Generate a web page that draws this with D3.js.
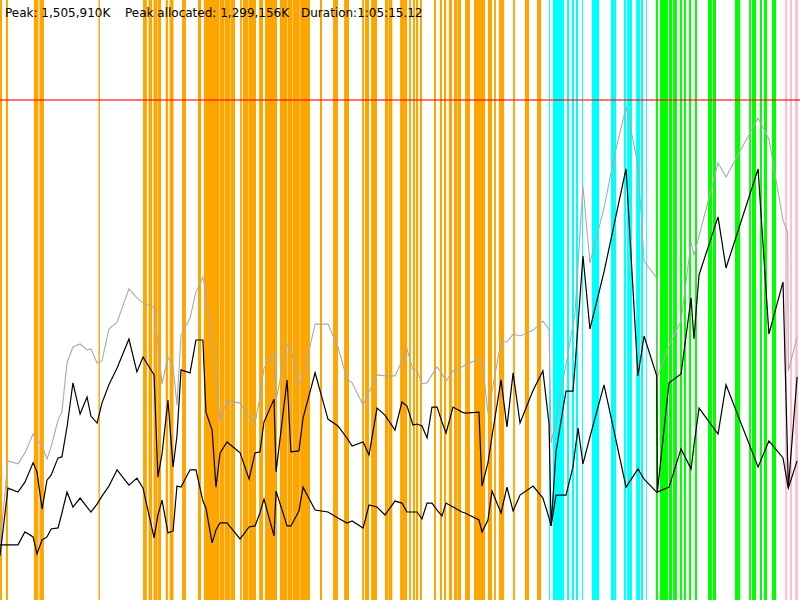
<!DOCTYPE html>
<html>
<head>
<meta charset="utf-8">
<script src="https://cdn.jsdelivr.net/npm/d3@7"></script>
<style>
  html, body { margin: 0; padding: 0; background: #fff; }
  svg { display: block; }
</style>
</head>
<body>
<div id="chart"></div>
<script>
// ---- header figures ----
const peakK = 1505910;
const peakAllocatedK = 1299156;
const durationSec = 3915.12;
const headerTexts = ["Peak: 1,505,910K", "Peak allocated: 1,299,156K", "Duration:1:05:15.12"];

// ---- activity spans (seconds from start) ----
const orangeSpans = [
  [0,10],[29,39],[166,188],[193,215],[482,489],[700,719],[727,744],[751,771],[773,788],
  [811,822],[830,849],[891,910],[969,984],[998,1072],[1074,1098],[1100,1126],[1128,1150],
  [1175,1184],[1189,1214],[1216,1253],[1268,1287],[1297,1356],[1370,1405],[1407,1429],
  [1431,1467],[1469,1517],[1566,1576],[1630,1654],[1684,1708],[1772,1781],
  [1786,1806],[1816,1845],[1884,1899],[1901,1920],[1958,1992],[2002,2011],[2021,2031],
  [2036,2046],[2055,2065],[2124,2134],[2153,2163],[2173,2183],[2197,2212],[2222,2237],
  [2239,2256],[2276,2300],[2320,2374],[2388,2408],[2418,2427],[2442,2467],[2511,2520],
  [2569,2589],[2628,2648]
];
const cyanSpans = [
  [2687,2692],[2706,2760],[2775,2785],[2799,2809],[2819,2829],[2848,2853],[2897,2932],
  [2990,3015],[3054,3064],[3069,3093],[3113,3132],[3137,3147],[3162,3166]
];
const greenSpans = [
  [3210,3220],[3230,3269],[3274,3289],[3294,3313],[3328,3338],[3347,3357],[3372,3382],
  [3401,3411],[3465,3485],[3489,3504],[3597,3622],[3666,3675],[3680,3700],[3719,3729],
  [3739,3754],[3778,3798]
];
const pinkSpans = [[3842,3852],[3866,3876],[3891,3905]];

// ---- memory samples (time in seconds, memory in thousands of K) ----
const sampleTimes = [
  0,39,88,122,162,181,206,230,250,284,303,328,357,392,426,445,475,499,533,573,
  631,670,700,754,773,793,822,847,866,886,930,959,993,1008,1038,1057,1077,1111,1175,1219,
  1248,1272,1292,1341,1351,1405,1424,1463,1483,1542,1605,1654,1698,1723,1777,1806,1845,1884,1933,1967,
  1992,2021,2041,2065,2090,2114,2139,2163,2183,2217,2261,2276,2344,2359,2388,2408,2452,2481,2511,2545,
  2609,2657,2687,2697,2721,2755,2770,2804,2814,2829,2853,2887,2956,3010,3064,3122,3152,3214,3217,3274,
  3333,3382,3396,3421,3514,3553,3710,3763,3832,3855,3858,3901
];
const peakSeries = [
  166,419,410,443,500,482,464,425,461,542,566,714,762,771,753,756,714,720,816,837,
  937,910,895,882,768,651,732,702,587,798,849,928,973,925,765,663,539,602,593,551,
  533,611,699,744,602,771,756,648,672,831,831,762,666,654,587,626,678,675,675,720,
  756,693,693,651,654,678,702,681,660,690,702,708,726,723,563,629,780,777,801,795,
  813,840,816,473,542,663,708,828,864,1012,1247,1015,1181,1346,1485,1313,1021,970,672,765,
  840,1078,1039,1096,1316,1274,1452,1388,1144,1108,690,792
];
const allocatedSeries = [
  133,337,325,355,413,386,274,361,376,428,431,521,654,560,611,554,533,593,648,699,
  786,687,732,678,370,440,602,401,494,693,684,783,783,566,512,340,443,476,443,364,
  443,446,536,605,386,663,446,449,548,684,545,524,488,464,476,437,578,557,512,596,
  584,527,530,524,488,581,581,536,503,581,566,563,566,343,413,494,663,521,684,533,
  632,690,530,223,446,575,629,629,702,831,1036,816,988,1144,1299,675,795,675,325,654,
  681,910,786,979,1154,1000,1298,801,958,413,337,672
];
const lowerSeries = [
  166,166,166,205,190,139,181,190,214,217,262,325,280,307,280,265,289,313,343,392,
  346,367,337,187,256,301,202,208,343,340,392,392,298,277,172,211,232,232,184,220,
  223,262,304,193,328,223,223,268,340,271,265,247,232,238,217,286,280,256,298,292,
  265,265,265,244,292,292,271,253,292,280,265,262,241,205,241,328,262,340,268,316,
  343,307,247,223,316,316,316,401,449,518,410,491,648,494,340,395,364,325,325,340,
  455,395,464,578,500,648,401,479,428,346,337,419
];

// ---- drawing ----
const W = 800, H = 600;
const svg = d3.select("#chart").append("svg").attr("width", W).attr("height", H);

const x = d3.scaleLinear().domain([0, durationSec]).range([0, W]);
const y = d3.scaleLinear().domain([0, peakK * 1.2 / 1000]).range([H, 0]);

const spanGroups = [
  { spans: orangeSpans, color: "#ffa500" },
  { spans: cyanSpans, color: "#00ffff" },
  { spans: greenSpans, color: "#00ff00" },
  { spans: pinkSpans, color: "#ffc0cb" }
];
spanGroups.forEach(g => {
  svg.append("g").selectAll("rect").data(g.spans).join("rect")
    .attr("x", d => x(d[0]))
    .attr("width", d => Math.max(0.8, x(d[1]) - x(d[0])))
    .attr("y", 0)
    .attr("height", H)
    .attr("fill", g.color);
});

// peak limit line
svg.append("line")
  .attr("x1", 0).attr("x2", W)
  .attr("y1", y(peakK / 1000)).attr("y2", y(peakK / 1000))
  .attr("stroke", "rgba(255,0,0,0.55)")
  .attr("stroke-width", 2);

const mkLine = vals => d3.line()
  .x((d, i) => x(sampleTimes[i]))
  .y(d => y(d))(vals);

svg.append("path").attr("d", mkLine(peakSeries))
  .attr("fill", "none").attr("stroke", "#aaaaaa").attr("stroke-width", 1.1);
svg.append("path").attr("d", mkLine(lowerSeries))
  .attr("fill", "none").attr("stroke", "#000").attr("stroke-width", 1.2);
svg.append("path").attr("d", mkLine(allocatedSeries))
  .attr("fill", "none").attr("stroke", "#000").attr("stroke-width", 1.2);

const textX = [5, 125, 301];
svg.append("g").selectAll("text").data(headerTexts).join("text")
  .attr("x", (d, i) => textX[i])
  .attr("y", 17)
  .attr("font-family", "DejaVu Sans, sans-serif")
  .attr("font-size", 12)
  .attr("fill", "#000")
  .text(d => d);
</script>
</body>
</html>
